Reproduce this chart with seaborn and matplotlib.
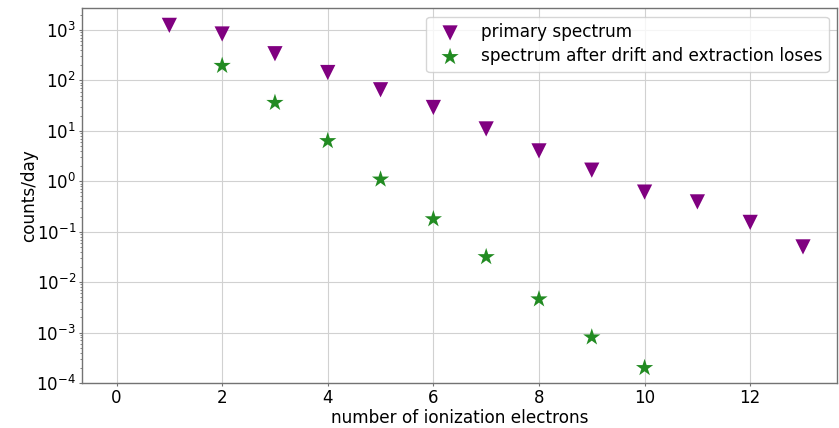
import numpy as np
import pandas as pd
import matplotlib
matplotlib.use("Agg")
import matplotlib.pyplot as plt
import seaborn as sns

# Primary ionization spectrum (counts/day per number of electrons)
primary_n = [1, 2, 3, 4, 5, 6, 7, 8, 9, 10, 11, 12, 13]
primary_counts = [1230, 830, 337, 143, 65, 29, 10.9, 4.0, 1.66, 0.61, 0.39, 0.153, 0.050]

# Spectrum after drift and extraction losses
drift_n = [2, 3, 4, 5, 6, 7, 8, 9, 10]
drift_counts = [195, 36, 6.3, 1.09, 0.178, 0.0316, 0.0046, 0.00081, 0.00020]

label_primary = "primary spectrum"
label_drift = "spectrum after drift and extraction loses"

sns.set_style("whitegrid", {
    "axes.edgecolor": "0.45",
    "grid.color": "0.82",
    "xtick.bottom": True,
    "ytick.left": True,
    "text.color": "black",
    "axes.labelcolor": "black",
    "xtick.color": "black",
    "ytick.color": "black",
})

fig, ax = plt.subplots(figsize=(8.39, 4.28), dpi=100)
fig.subplots_adjust(left=0.098, right=0.998, top=0.981, bottom=0.105)

df_p = pd.DataFrame({"n": primary_n, "counts": primary_counts})
df_d = pd.DataFrame({"n": drift_n, "counts": drift_counts})

sns.scatterplot(data=df_p, x="n", y="counts", marker="v", s=120,
                color="purple", edgecolor="none", label=label_primary, ax=ax)
sns.scatterplot(data=df_d, x="n", y="counts", marker="*", s=170,
                color="forestgreen", edgecolor="none", label=label_drift, ax=ax)

ax.set_yscale("log")
ax.set_ylim(1e-4, 2700)
ax.set_xlim(-0.65, 13.65)
ax.set_xticks([0, 2, 4, 6, 8, 10, 12])
ax.grid(True, which="major", linewidth=0.8)
ax.grid(False, which="minor")
ax.tick_params(axis="both", which="major", labelsize=12, length=2.5,
               pad=2, color="0.45", labelcolor="black")
ax.tick_params(axis="y", which="minor", length=1.5, color="0.45")

ax.set_xlabel("number of ionization electrons", fontsize=12.2, labelpad=1,
              color="black")
ax.set_ylabel("counts/day", fontsize=12.2, color="black")
ax.yaxis.set_label_coords(-0.058, 0.5)

for sp in ax.spines.values():
    sp.set_linewidth(1.0)

leg = ax.legend(loc="upper right", fontsize=12.2, frameon=True, framealpha=0.8,
                handletextpad=0.8, borderpad=0.4, labelspacing=0.35)
for t in leg.get_texts():
    t.set_color("black")

fig.savefig("out.png", dpi=100)
